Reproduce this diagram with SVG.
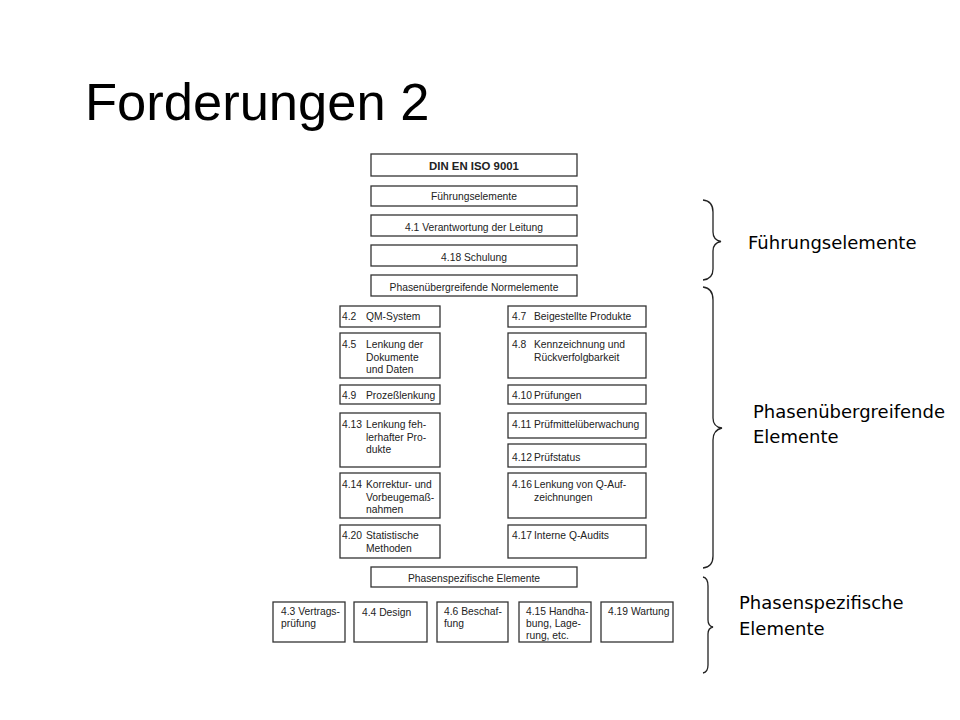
<svg xmlns="http://www.w3.org/2000/svg" width="960" height="720" viewBox="0 0 960 720">
<style>
.bx{fill:#fff;stroke:#333;stroke-width:1.3}
.t{font-family:"Liberation Sans",Arial,sans-serif;font-size:10.3px;fill:#222}
.c{text-anchor:middle}
.b{font-weight:bold;font-size:11.4px}
.lab{font-family:"DejaVu Sans",Verdana,sans-serif;font-size:18px;fill:#000}
.br{fill:none;stroke:#222;stroke-width:1.3}
</style>
<rect width="960" height="720" fill="#fff"/>
<text x="85" y="120" font-family="Liberation Sans,Arial,sans-serif" font-size="52.5" fill="#000">Forderungen 2</text>

<g id="n-din"><rect class="bx" x="371" y="154" width="206" height="22"/><text class="t c b" x="474" y="169.5">DIN EN ISO 9001</text></g>
<g id="n-fuehr"><rect class="bx" x="371" y="186" width="206" height="20"/><text class="t c" x="474" y="200">Führungselemente</text></g>
<g id="n-41"><rect class="bx" x="371" y="215" width="206" height="21"/><text class="t c" x="474" y="230.5">4.1 Verantwortung der Leitung</text></g>
<g id="n-418"><rect class="bx" x="371" y="245" width="206" height="21"/><text class="t c" x="474" y="260.5">4.18 Schulung</text></g>
<g id="n-phue"><rect class="bx" x="371" y="275" width="206" height="21"/><text class="t c" x="474" y="290.5">Phasenübergreifende Normelemente</text></g>

<g id="n-42"><rect class="bx" x="340" y="306" width="100" height="21"/><text class="t" x="342" y="320">4.2</text><text class="t" x="366" y="320">QM-System</text></g>
<g id="n-45"><rect class="bx" x="340" y="333" width="100" height="45"/><text class="t" x="342" y="347.7">4.5</text><text class="t" x="366" y="347.7">Lenkung der</text><text class="t" x="366" y="360.5">Dokumente</text><text class="t" x="366" y="373.2">und Daten</text></g>
<g id="n-49"><rect class="bx" x="340" y="385" width="100" height="19"/><text class="t" x="342" y="399">4.9</text><text class="t" x="366" y="399">Prozeßlenkung</text></g>
<g id="n-413"><rect class="bx" x="340" y="413" width="100" height="54"/><text class="t" x="342" y="427.7">4.13</text><text class="t" x="366" y="427.7">Lenkung feh-</text><text class="t" x="366" y="440.5">lerhafter Pro-</text><text class="t" x="366" y="453.3">dukte</text></g>
<g id="n-414"><rect class="bx" x="340" y="473" width="100" height="45"/><text class="t" x="342" y="487.7">4.14</text><text class="t" x="366" y="487.7">Korrektur- und</text><text class="t" x="366" y="500.5">Vorbeugemaß-</text><text class="t" x="366" y="513.3">nahmen</text></g>
<g id="n-420"><rect class="bx" x="340" y="525" width="100" height="33"/><text class="t" x="342" y="539.3">4.20</text><text class="t" x="366" y="539.3">Statistische</text><text class="t" x="366" y="552.1">Methoden</text></g>

<g id="n-47"><rect class="bx" x="508" y="306" width="138" height="21"/><text class="t" x="512" y="320">4.7</text><text class="t" x="534" y="320">Beigestellte Produkte</text></g>
<g id="n-48"><rect class="bx" x="508" y="333" width="138" height="45"/><text class="t" x="512" y="347.7">4.8</text><text class="t" x="534" y="347.7">Kennzeichnung und</text><text class="t" x="534" y="360.5">Rückverfolgbarkeit</text></g>
<g id="n-410"><rect class="bx" x="508" y="385" width="138" height="19"/><text class="t" x="512" y="399">4.10</text><text class="t" x="534" y="399">Prüfungen</text></g>
<g id="n-411"><rect class="bx" x="508" y="413" width="138" height="25"/><text class="t" x="512" y="427.7">4.11</text><text class="t" x="534" y="427.7">Prüfmittelüberwachung</text></g>
<g id="n-412"><rect class="bx" x="508" y="444" width="138" height="23"/><text class="t" x="512" y="460.5">4.12</text><text class="t" x="534" y="460.5">Prüfstatus</text></g>
<g id="n-416"><rect class="bx" x="508" y="473" width="138" height="45"/><text class="t" x="512" y="487.7">4.16</text><text class="t" x="534" y="487.7">Lenkung von Q-Auf-</text><text class="t" x="534" y="500.5">zeichnungen</text></g>
<g id="n-417"><rect class="bx" x="508" y="525" width="138" height="33"/><text class="t" x="512" y="539.3">4.17</text><text class="t" x="534" y="539.3">Interne Q-Audits</text></g>

<g id="n-phsp"><rect class="bx" x="371" y="567" width="206" height="20"/><text class="t c" x="474" y="581.5">Phasenspezifische Elemente</text></g>

<g id="n-43"><rect class="bx" x="273" y="602" width="72" height="40"/><text class="t" x="281" y="614.5">4.3 Vertrags-</text><text class="t" x="281" y="626.5">prüfung</text></g>
<g id="n-44"><rect class="bx" x="354" y="602" width="73" height="40"/><text class="t" x="362" y="616">4.4 Design</text></g>
<g id="n-46"><rect class="bx" x="437" y="602" width="71" height="40"/><text class="t" x="444" y="614.5">4.6 Beschaf-</text><text class="t" x="444" y="626.5">fung</text></g>
<g id="n-415"><rect class="bx" x="519" y="602" width="72" height="40"/><text class="t" x="526" y="614.5">4.15 Handha-</text><text class="t" x="526" y="626.8">bung, Lage-</text><text class="t" x="526" y="639">rung, etc.</text></g>
<g id="n-419"><rect class="bx" x="601" y="602" width="72" height="40"/><text class="t" x="608" y="614.5">4.19 Wartung</text></g>

<g id="connectors">
<path class="br" d="M703,200 Q713,201 713,212 L713,232 Q713,240 721,241.5 Q713,243 713,251 L713,269 Q713,279 703,280"/>
<path class="br" d="M703,287 Q713,288 713,300 L713,418 Q713,427 722,428 Q713,430 713,440 L713,556 Q713,567 703,568"/>
<path class="br" d="M703,577 Q708,578 708,586 L708,620 Q708,626 713,627 Q708,628 708,634 L708,665 Q708,672 703,673"/>
</g>

<g id="labels">
<text class="lab" x="748" y="249">Führungselemente</text>
<text class="lab" x="753" y="418">Phasenübergreifende</text>
<text class="lab" x="753" y="443">Elemente</text>
<text class="lab" x="739" y="609">Phasenspezifische</text>
<text class="lab" x="739" y="635">Elemente</text>
</g>
</svg>
